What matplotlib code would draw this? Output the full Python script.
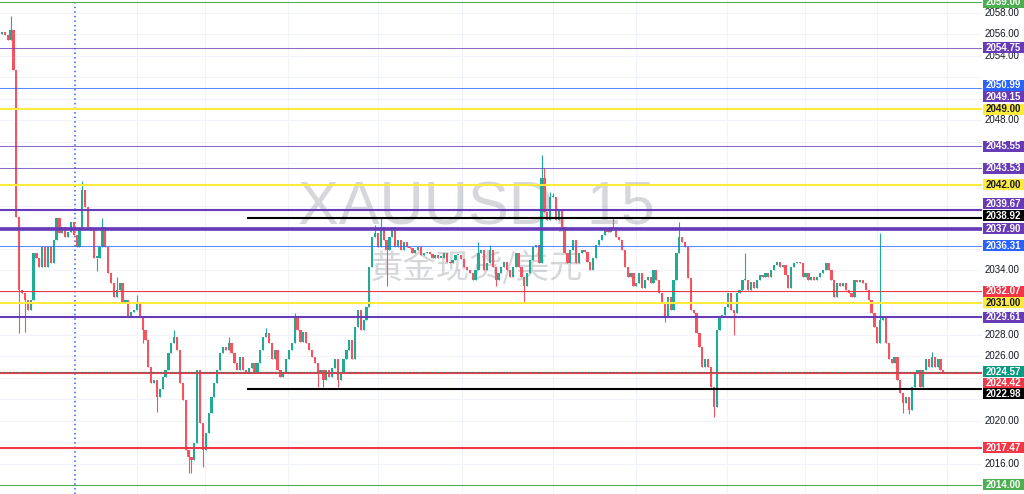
import matplotlib.pyplot as plt
from matplotlib.patches import Rectangle
from matplotlib.transforms import blended_transform_factory
import numpy as np

plt.rcParams['font.family'] = ['Liberation Sans', 'Noto Sans CJK SC', 'DejaVu Sans']

# XAUUSD 15m closes (open = previous close)
first_open = 2056.0
closes = [
    2056.2, 2055.9, 2055.5, 2056.4, 2052.7, 2039.0, 2032.2, 2031.9, 2031.2, 2030.3,
    2031.2, 2035.6, 2035.2, 2034.3, 2036.2, 2034.3, 2036.2, 2034.7, 2036.8, 2038.9,
    2037.5, 2038.0, 2037.1, 2037.6, 2038.5, 2037.3, 2036.2, 2037.8, 2041.5, 2039.9, 2038.0,
    2037.8, 2035.2, 2035.2, 2036.2, 2038.0, 2036.2, 2033.8, 2032.8, 2031.5, 2032.2,
    2032.8, 2031.0, 2031.2, 2029.7, 2030.1, 2030.3, 2031.0, 2029.7, 2028.4, 2027.5, 2025.0,
    2023.5, 2023.8, 2022.2, 2022.9, 2024.1, 2024.7, 2026.3, 2027.2, 2027.8, 2026.6,
    2023.5, 2021.9, 2017.3, 2016.6, 2016.3, 2017.9, 2024.7, 2019.8, 2017.3, 2018.8,
    2020.7, 2022.2, 2023.5, 2024.7, 2026.3, 2026.9, 2026.6, 2027.2, 2026.3, 2025.4,
    2024.7, 2025.9, 2024.7, 2024.5, 2024.9, 2025.4, 2024.4, 2025.4, 2026.6, 2027.8, 2028.2,
    2027.2, 2025.7, 2026.6, 2024.7, 2024.1, 2024.4, 2025.7, 2026.6, 2027.2, 2029.7,
    2028.4, 2027.3, 2028.3, 2027.2, 2026.6, 2025.9, 2025.4, 2024.4, 2024.7, 2023.8,
    2024.7, 2024.1, 2024.9, 2025.7, 2023.8, 2024.4, 2025.7, 2026.6, 2027.5, 2025.7, 2028.7,
    2030.3, 2028.4, 2029.4, 2030.6, 2034.3, 2037.1, 2037.5, 2036.2, 2038.0, 2036.8,
    2035.9, 2037.1, 2038.0, 2036.2, 2036.8, 2035.9, 2036.6, 2036.2, 2036.1, 2035.6,
    2035.9, 2036.2, 2035.4, 2035.6, 2035.7, 2035.5, 2035.2, 2035.4, 2035.2, 2035.2, 2035.6,
    2034.8, 2034.7, 2035.0, 2035.4, 2035.4, 2035.1, 2034.3, 2034.0, 2033.8, 2033.1, 2034.0,
    2035.6, 2035.9, 2034.0, 2034.7, 2035.9, 2034.3, 2033.1, 2033.8, 2034.3, 2034.8,
    2034.0, 2033.4, 2034.3, 2035.6, 2034.3, 2033.4, 2032.5, 2033.8, 2035.0, 2036.2,
    2036.4, 2034.7, 2042.6, 2039.4, 2038.7, 2040.8, 2040.8, 2038.7, 2039.6, 2038.0,
    2035.6, 2034.7, 2035.9, 2036.8, 2034.7, 2035.6, 2035.9, 2035.7,
    2034.8, 2034.0, 2035.2, 2036.4, 2036.8, 2037.3, 2037.8, 2037.6, 2038.0, 2037.8,
    2037.1, 2036.8, 2035.9, 2034.3, 2033.4, 2033.8, 2032.5, 2032.8, 2033.8, 2032.4,
    2033.1, 2033.4, 2032.8, 2034.0, 2033.1, 2031.9, 2031.0, 2029.7, 2031.5,
    2030.3, 2033.1, 2035.6, 2037.1, 2036.6, 2036.2, 2033.3, 2030.3, 2030.0, 2028.2,
    2026.9, 2025.0, 2025.7, 2025.0, 2023.1, 2021.3, 2028.4, 2029.7, 2029.8, 2030.6,
    2031.9, 2030.3, 2030.0, 2031.9, 2032.2, 2033.1, 2033.1, 2032.2, 2032.9, 2032.4,
    2033.1, 2033.6, 2033.4, 2033.8, 2033.4, 2034.0, 2034.5, 2034.8, 2034.3, 2034.5,
    2033.6, 2032.4, 2034.3, 2034.7, 2034.8, 2034.7, 2033.4, 2033.8, 2033.1,
    2033.4, 2033.1, 2033.4, 2033.8, 2034.0, 2034.7, 2034.0, 2033.1, 2031.5, 2032.8,
    2032.5, 2032.8, 2032.2, 2031.9, 2031.5, 2033.1, 2032.9, 2033.1, 2032.8, 2032.2,
    2031.2, 2030.0, 2028.7, 2027.2, 2029.4, 2029.7, 2027.2, 2025.7, 2025.4, 2025.9,
    2023.8, 2022.6, 2021.6, 2022.2, 2021.0, 2023.1, 2024.4, 2024.7, 2023.1,
    2024.7, 2025.7, 2025.0, 2025.9, 2025.0, 2025.7, 2024.7, 2024.57,
]

# wicks that stick out clearly (candle index -> price)
wick_highs = {3: 2057.7, 28: 2042.3, 35: 2038.9, 40: 2033.4, 47: 2031.7, 60: 2028.4,
              79: 2027.8, 92: 2028.6, 102: 2030.0, 130: 2038.2, 132: 2039.0, 166: 2036.6,
              170: 2036.4, 188: 2044.8, 189: 2043.5, 191: 2041.3, 192: 2041.2, 213: 2038.9,
              236: 2038.5, 259: 2035.6, 306: 2037.5, 324: 2026.4}
wick_lows = {6: 2028.2, 8: 2028.3, 33: 2033.9, 49: 2027.2, 54: 2020.8, 65: 2015.1,
             66: 2015.1, 70: 2015.7, 110: 2023.1, 112: 2023.1, 117: 2023.1, 134: 2032.5,
             172: 2032.5, 182: 2031.0, 231: 2029.2, 248: 2020.3, 255: 2028.0, 314: 2020.7,
             316: 2020.6}

# drawn horizontal levels
level_prices = [2059.00, 2054.75, 2050.99, 2049.15, 2049.00, 2045.55, 2043.53, 2042.00,
                2039.67, 2038.92, 2037.90, 2036.31, 2032.07, 2031.00, 2029.61, 2024.42,
                2022.98, 2017.47, 2014.00]
level_colors = ['green', 'purple', 'blue', 'purple', 'yellow', 'purple', 'purple', 'yellow',
                'purple', 'black', 'purple', 'blue', 'red', 'yellow', 'purple', 'red',
                'black', 'red', 'green']
level_px = [1, 1, 1, 1, 2, 1, 1, 2, 2, 2, 3.5, 1, 1, 2, 2, 2, 2, 2, 1]

palette = {'green': '#4caf50', 'purple': '#673ab7', 'blue': '#2962ff',
           'yellow': '#ffeb3b', 'black': '#000000', 'red': '#f23645', 'teal': '#089981'}
# price-scale boxes pushed apart like TradingView does (pixels, + = down)
label_nudge_px = {2050.99: -3, 2049.15: -11, 2039.67: -6, 2038.92: -2,
                  2024.42: 10, 2022.98: 5}

W, H = 1024, 494
plot_w = 982
step = 2.87            # px per candle
px_per_usd = 10.73
y_top, y_bot = 2059.2, 2013.16

fig = plt.figure(figsize=(W / 100, H / 100), dpi=100)
fig.patch.set_facecolor('white')
ax = fig.add_axes([0, 0, plot_w / W, 1])
ax.set_xlim(-2 / step, (plot_w - 2) / step)
ax.set_ylim(y_bot, y_top)
ax.axis('off')

# grid
for p in np.arange(2014, 2059, 2):
    ax.axhline(p, color='#f0f3fa', lw=0.8, zorder=0)
for gx in [137, 205, 288, 378, 462, 553, 636, 727, 805, 877, 947]:
    ax.axvline((gx - 2) / step, color='#f0f3fa', lw=0.8, zorder=0)

# watermark
ax.text(476 / plot_w, 1 - 208 / H, 'XAUUSD, 15', transform=ax.transAxes, ha='center',
        va='center', fontsize=44, color='#787b86', alpha=0.3, zorder=1,
        family=['Liberation Sans', 'DejaVu Sans'])
ax.text(476 / plot_w, 1 - 268 / H, '黄金现货/美元', transform=ax.transAxes, ha='center',
        va='center', fontsize=24, color='#787b86', alpha=0.3, zorder=1,
        family=['Noto Sans CJK SC', 'DejaVu Sans'])

# candles
c = np.array(closes)
o = np.concatenate([[first_open], c[:-1]])
x = np.arange(len(c))
hi = np.maximum(o, c)
lo = np.minimum(o, c)
for i, v in wick_highs.items():
    hi[i] = v
for i, v in wick_lows.items():
    lo[i] = v
cols = np.where(c >= o, '#22ab94', '#f7525f')
ax.vlines(x, lo, hi, colors=cols, lw=0.8, zorder=3)
ax.bar(x, np.maximum(np.abs(c - o), 0.12), bottom=np.minimum(o, c), width=0.78,
       color=cols, linewidth=0, zorder=3)

# vertical dotted marker
ax.axvline((75 - 2) / step, color='#2962ff', lw=1.1, ls=(0, (1, 2)), zorder=2)

# levels
for p, cname, w in zip(level_prices, level_colors, level_px):
    start = 248 / plot_w if cname == 'black' else 0
    alpha = 0.75 if (w == 1 and cname in ('purple', 'blue')) else 1
    ax.axhline(p, xmin=start, xmax=1, color=palette[cname], lw=w * 0.75,
               alpha=alpha, zorder=4)

last = closes[-1]
ax.axhline(last, color=palette['teal'], lw=0.9, ls=(0, (1, 1.5)), zorder=4)

# price scale: value boxes first, then the ticks that are not fully hidden by them
trans = blended_transform_factory(fig.transFigure, ax.transData)
box_h = 11 / px_per_usd
labels = list(zip(level_prices, level_colors)) + [(last, 'teal')]
box_y = []
for p, cname in labels:
    yp = p - label_nudge_px.get(p, 0) / px_per_usd
    box_y.append(yp)
    fig.patches.append(Rectangle((983 / W, yp - box_h / 2), 41 / W, box_h, transform=trans,
                                 facecolor=palette[cname], edgecolor='none', zorder=5))
    fig.text(1003.5 / W, yp, f'{p:.2f}', transform=trans, ha='center', va='center',
             fontsize=7, fontweight='bold',
             color='#131722' if cname == 'yellow' else 'white', zorder=6)

for p in np.arange(2016, 2059, 2):
    if min(abs(p - b) for b in box_y) * px_per_usd < 8:
        continue
    fig.text(1002 / W, p, f'{p:.2f}', transform=trans, ha='center', va='center',
             fontsize=7, color='#131722', zorder=3)

fig.savefig('out.png', dpi=100)
